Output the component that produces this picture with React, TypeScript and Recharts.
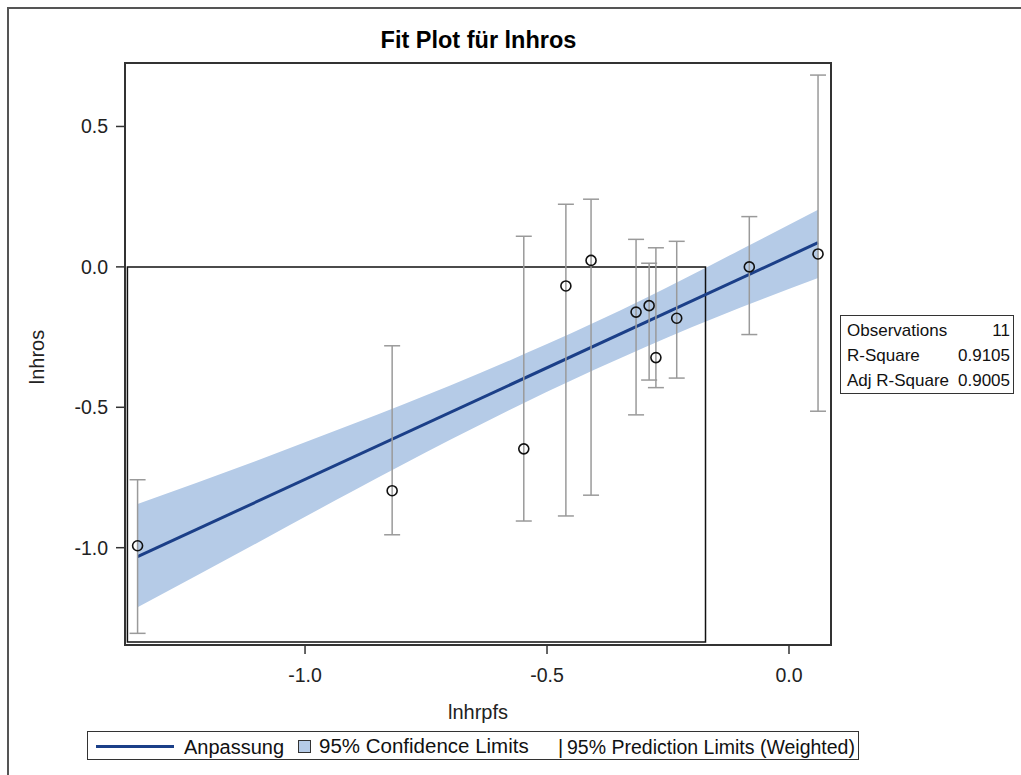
import React from 'react';
import { ComposedChart, XAxis, YAxis, Area, Line, Scatter, ErrorBar, ReferenceArea } from 'recharts';

const FONT = '"Liberation Sans", Arial, Helvetica, sans-serif';

// Observations (lnhrpfs, lnhros) and weighted 95% prediction limits
const xObs = [-1.346, -0.820, -0.548, -0.461, -0.409, -0.316, -0.289, -0.275, -0.232, -0.082, 0.060];
const yObs = [-0.993, -0.797, -0.648, -0.068, 0.023, -0.161, -0.138, -0.323, -0.183, 0.000, 0.046];
const predLower = [-1.305, -0.954, -0.905, -0.887, -0.813, -0.527, -0.403, -0.430, -0.396, -0.241, -0.514];
const predUpper = [-0.758, -0.281, 0.109, 0.223, 0.241, 0.098, 0.013, 0.068, 0.091, 0.179, 0.683];

// Fit line
const fitX = [-1.346, 0.060];
const fitY = [-1.032, 0.086];

// 95% confidence band
const bandX = [-1.346, -1.1, -0.9, -0.7, -0.5, -0.3, -0.1, 0.060];
const bandLower = [-1.212, -0.984, -0.797, -0.616, -0.445, -0.288, -0.145, -0.040];
const bandUpper = [-0.844, -0.690, -0.559, -0.422, -0.275, -0.114, 0.061, 0.203];

// Axes
const xDomain = [-1.372, 0.0868];
const yDomain = [-1.3465, 0.726];
const xTicks = [-1.0, -0.5, 0.0];
const yTicks = [-1.0, -0.5, 0.0, 0.5];

// Inner reference rectangle
const refRectX = [-1.367, -0.1725];
const refRectY = [-1.336, 0.0];

// Fit statistics
const statLabels = ['Observations', 'R-Square', 'Adj R-Square'];
const statValues = ['11', '0.9105', '0.9005'];

const obsData = xObs.map((x, i) => ({
  x,
  y: yObs[i],
  err: [yObs[i] - predLower[i], predUpper[i] - yObs[i]],
}));
const bandData = bandX.map((x, i) => ({ x, band: [bandLower[i], bandUpper[i]] }));
const fitData = fitX.map((x, i) => ({ x, fit: fitY[i] }));

const LINE_COLOR = '#1b3f88';
const BAND_COLOR = '#b5cbe7';

const abs = (s: React.CSSProperties): React.CSSProperties => ({ position: 'absolute', ...s });

export default function App() {
  return (
    <div style={abs({ left: 0, top: 0, width: 1021, height: 775, overflow: 'hidden', background: '#fff', fontFamily: FONT })}>
      <div style={abs({ left: 7, top: 7, width: 1100, height: 900, borderTop: '2px solid #555', borderLeft: '2px solid #555' })} />
      <div style={abs({ left: 0, top: 0 })}>
        <ComposedChart width={1021} height={775} margin={{ top: 63, right: 190, bottom: 90, left: 65 }}>
          <XAxis
            dataKey="x"
            type="number"
            domain={xDomain}
            ticks={xTicks}
            allowDataOverflow
            height={40}
            axisLine={false}
            tickSize={9}
            tickMargin={14}
            tickLine={{ stroke: '#333', strokeWidth: 1.5 }}
            tick={{ fontSize: 19.5, fill: '#222', fontFamily: FONT }}
            tickFormatter={(v: number) => v.toFixed(1)}
          />
          <YAxis
            type="number"
            domain={yDomain}
            ticks={yTicks}
            allowDataOverflow
            width={60}
            axisLine={false}
            tickSize={9}
            tickMargin={8}
            tickLine={{ stroke: '#333', strokeWidth: 1.5 }}
            tick={{ fontSize: 19.5, fill: '#222', fontFamily: FONT }}
            tickFormatter={(v: number) => v.toFixed(1)}
          />
          <ReferenceArea x1={xDomain[0]} x2={xDomain[1]} y1={yDomain[0]} y2={yDomain[1]} fill="none" fillOpacity={0} stroke="#333" strokeWidth={2} />
          <Area data={bandData} dataKey="band" type="monotone" fill={BAND_COLOR} fillOpacity={1} stroke="none" isAnimationActive={false} />
          <ReferenceArea x1={refRectX[0]} x2={refRectX[1]} y1={refRectY[0]} y2={refRectY[1]} fill="none" fillOpacity={0} stroke="#111" strokeWidth={1.5} />
          <Line data={fitData} dataKey="fit" type="linear" stroke={LINE_COLOR} strokeWidth={3} dot={false} isAnimationActive={false} />
          <Scatter
            data={obsData}
            dataKey="y"
            isAnimationActive={false}
            shape={(p: any) => <circle cx={p.cx} cy={p.cy} r={5} fill="none" stroke="#111" strokeWidth={1.6} />}
          >
            <ErrorBar dataKey="err" direction="y" width={8} stroke="#9a9a9a" strokeWidth={1.5} />
          </Scatter>
        </ComposedChart>
      </div>

      <div style={abs({ left: 0, width: 957, top: 29, textAlign: 'center', fontSize: 23.5, lineHeight: '23.5px', fontWeight: 'bold', color: '#000' })}>
        Fit Plot für lnhros
      </div>

      <div style={abs({ left: 0, width: 956, top: 702, textAlign: 'center', fontSize: 20, lineHeight: '20px', color: '#222' })}>
        lnhrpfs
      </div>
      <div style={abs({ left: 37, top: 357, fontSize: 20, lineHeight: '20px', color: '#222', whiteSpace: 'nowrap', transform: 'translate(-50%, -50%) rotate(-90deg)' })}>
        lnhros
      </div>

      <div style={abs({ left: 840, top: 315, width: 174, height: 79, border: '1.5px solid #333', boxSizing: 'border-box' })} />
      {statLabels.map((s, i) => (
        <React.Fragment key={s}>
          <div style={abs({ left: 847, top: 322.3 + i * 25, fontSize: 17, lineHeight: '17px', color: '#111', whiteSpace: 'nowrap' })}>{s}</div>
          <div style={abs({ right: 1021 - 1010, top: 322.3 + i * 25, fontSize: 17, lineHeight: '17px', color: '#111', whiteSpace: 'nowrap', textAlign: 'right' })}>{statValues[i]}</div>
        </React.Fragment>
      ))}

      <div style={abs({ left: 87, top: 731, width: 772, height: 29, border: '1.5px solid #333', boxSizing: 'border-box' })} />
      <div style={abs({ left: 96, top: 744.5, width: 78, height: 3, background: LINE_COLOR })} />
      <div style={abs({ left: 184, top: 736.5, fontSize: 20, lineHeight: '20px', color: '#111', whiteSpace: 'nowrap' })}>Anpassung</div>
      <div style={abs({ left: 298, top: 740, width: 13, height: 13, background: BAND_COLOR, border: '1px solid #333', boxSizing: 'border-box' })} />
      <div style={abs({ left: 319, top: 736, fontSize: 20.5, lineHeight: '20.5px', color: '#111', whiteSpace: 'nowrap' })}>95% Confidence Limits</div>
      <div style={abs({ left: 558, top: 736.5, fontSize: 20, lineHeight: '20px', color: '#111', whiteSpace: 'nowrap' })}>|</div>
      <div style={abs({ left: 567, top: 736.5, fontSize: 20, lineHeight: '20px', color: '#111', whiteSpace: 'nowrap', transform: 'scaleX(0.975)', transformOrigin: 'left center' })}>95% Prediction Limits (Weighted)</div>
    </div>
  );
}
